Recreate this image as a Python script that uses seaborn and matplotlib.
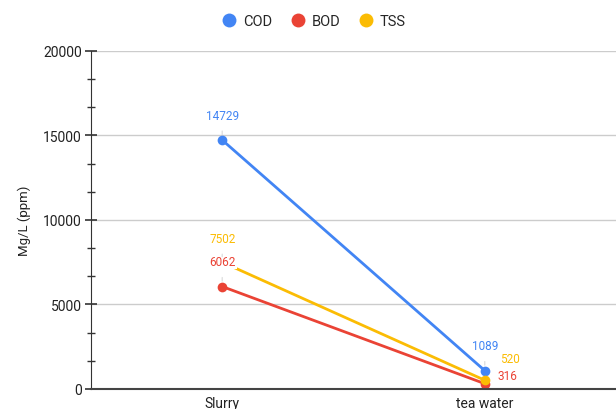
import matplotlib

matplotlib.use("Agg")
import matplotlib.pyplot as plt
import pandas as pd
import seaborn as sns
from matplotlib.ticker import MultipleLocator

samples = ["Slurry", "tea water"]
parameters = ["COD", "BOD", "TSS"]
cod = [14729, 1089]
bod = [6062, 316]
tss = [7502, 520]
colors = ["#4285F4", "#EA4335", "#FBBC04"]

df = pd.DataFrame(
    {
        "sample": samples * 3,
        "parameter": [p for p in parameters for _ in samples],
        "value": cod + bod + tss,
    }
)

sns.set_style("white")
plt.rcParams["font.family"] = ["Roboto", "DejaVu Sans"]

fig = plt.figure(figsize=(6.16, 4.10), dpi=100)
ax = fig.add_axes([0.1477, 0.0488, 0.8523, 0.8244])

sns.lineplot(
    data=df,
    x="sample",
    y="value",
    hue="parameter",
    hue_order=parameters,
    palette=colors,
    marker="o",
    markersize=7,
    markeredgewidth=0,
    linewidth=2,
    legend=False,
    ax=ax,
)

ax.set_xlim(-0.5, 1.5)
ax.set_ylim(0, 20000)
ax.yaxis.set_major_locator(MultipleLocator(5000))
ax.yaxis.set_minor_locator(MultipleLocator(5000 / 3))
ax.grid(axis="y", which="major", color="#cccccc", lw=1)
ax.set_axisbelow(True)

for s in ["top", "right"]:
    ax.spines[s].set_visible(False)
ax.spines["left"].set_color("#333333")
ax.spines["bottom"].set_color("#444444")
ax.spines["bottom"].set_linewidth(1.5)

ax.tick_params(axis="y", which="both", left=True)
ax.tick_params(axis="y", which="major", direction="inout", length=9, width=1.2,
               color="#333333", labelsize=10, labelcolor="#222222", pad=2)
ax.tick_params(axis="y", which="minor", direction="inout", length=6, width=1,
               color="#333333")
ax.tick_params(axis="x", length=0, labelsize=10, labelcolor="#222222", pad=5)
ax.set_xlabel("")
ax.set_ylabel("Mg/L (ppm)", fontsize=9.5, color="#222222", labelpad=9)

# value labels (offsets in pixels)
offsets = {
    ("COD", 0): (0, 25), ("BOD", 0): (0, 25), ("TSS", 0): (0, 24),
    ("COD", 1): (0, 25), ("TSS", 1): (25, 22), ("BOD", 1): (23, 8),
}
series = {"COD": cod, "BOD": bod, "TSS": tss}
for p, c in zip(parameters, colors):
    for i, v in enumerate(series[p]):
        dx, dy = offsets[(p, i)]
        arrow = dict(arrowstyle="-", color="#e0e0e0", lw=1, shrinkA=6, shrinkB=4) if dx == 0 else None
        ax.annotate(
            str(v),
            xy=(i, v),
            xytext=(dx, dy),
            textcoords="offset pixels",
            ha="center",
            va="center",
            fontsize=8.5,
            color=c,
            arrowprops=arrow,
            bbox=dict(boxstyle="square,pad=0.1", fc="white", ec="none"),
            zorder=10,
        )

handles = [
    plt.Line2D([], [], ls="", marker="o", markersize=10, color=c, markeredgewidth=0)
    for c in colors
]
fig.legend(
    handles,
    parameters,
    loc="center",
    bbox_to_anchor=(0.51, 0.946),
    ncol=3,
    frameon=False,
    fontsize=10.5,
    handlelength=0.9,
    handletextpad=0.5,
    columnspacing=1.3,
)

fig.savefig("out.png", dpi=100)
